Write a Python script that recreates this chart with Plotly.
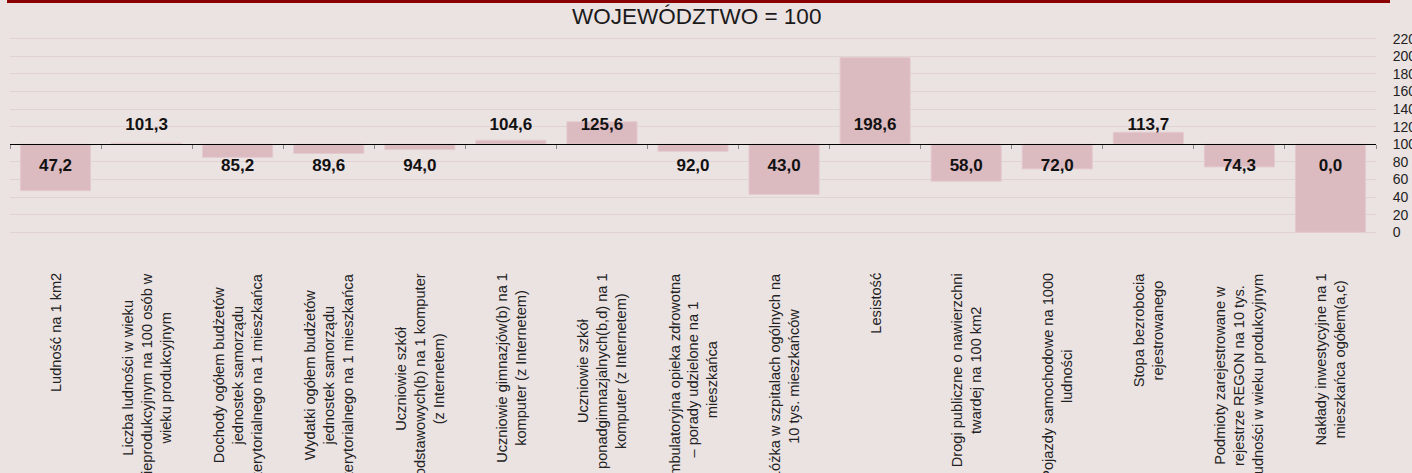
import plotly.graph_objects as go

# ---- data ----
categories = [
    "Ludność na 1 km2",
    "Liczba ludności w wieku<br>nieprodukcyjnym na 100 osób w<br>wieku produkcyjnym",
    "Dochody ogółem budżetów<br>jednostek samorządu<br>terytorialnego na 1 mieszkańca",
    "Wydatki ogółem budżetów<br>jednostek samorządu<br>terytorialnego na 1 mieszkańca",
    "Uczniowie szkół<br>podstawowych(b) na 1 komputer<br>(z Internetem)",
    "Uczniowie gimnazjów(b) na 1<br>komputer (z Internetem)",
    "Uczniowie szkół<br>ponadgimnazjalnych(b,d) na 1<br>komputer (z Internetem)",
    "Ambulatoryjna opieka zdrowotna<br>– porady udzielone na 1<br>mieszkańca",
    "Łóżka w szpitalach ogólnych na<br>10 tys. mieszkańców",
    "Lesistość",
    "Drogi publiczne o nawierzchni<br>twardej na 100 km2",
    "Pojazdy samochodowe na 1000<br>ludności",
    "Stopa bezrobocia<br>rejestrowanego",
    "Podmioty zarejestrowane w<br>rejestrze REGON na 10 tys.<br>ludności w wieku produkcyjnym",
    "Nakłady inwestycyjne na 1<br>mieszkańca ogółem(a,c)",
]
values = [47.2, 101.3, 85.2, 89.6, 94.0, 104.6, 125.6, 92.0, 43.0, 198.6,
          58.0, 72.0, 113.7, 74.3, 0.0]
baseline = 100
title_text = "WOJEWÓDZTWO = 100"
y_ticks = list(range(0, 221, 20))

# ---- styling ----
FONT = "Liberation Sans, Arial, sans-serif"
BG = "#EBE2E2"
GRID = "#E2D3D3"
BAR = "#DBBAC0"
BAR_EDGE = "#E4CBCF"
Y_MIN, Y_MAX = -2, 222
LABEL_UP = baseline + 21.0
LABEL_DOWN = baseline - 25.0

W, H = 1412, 473
ML, MR, MT, MB = 10, 36, 37, 239
PW, PH = W - ML - MR, H - MT - MB


def px_to_paper_y(py):
    return (H - MB - py) / PH


def px_to_paper_x(px):
    return (px - ML) / PW


fig = go.Figure()

fig.add_trace(go.Bar(
    x=categories,
    y=[v - baseline for v in values],
    base=baseline,
    width=0.77,
    marker=dict(color=BAR, line=dict(color=BAR_EDGE, width=1)),
    hoverinfo="skip",
    showlegend=False,
))

fig.add_trace(go.Scatter(
    x=categories,
    y=[LABEL_UP if v >= baseline else LABEL_DOWN for v in values],
    text=[f"{v:.1f}".replace(".", ",") for v in values],
    mode="text",
    textfont=dict(family=FONT, size=17, color="#111111", weight="bold"),
    textposition="middle center",
    hoverinfo="skip",
    showlegend=False,
))

annotations = []
for c in categories:
    annotations.append(dict(
        x=c, y=px_to_paper_y(271), xref="x", yref="paper",
        text=c, textangle=-90, showarrow=False,
        xanchor="center", yanchor="top", align="center",
        font=dict(family=FONT, size=14.6, color="#222222"),
    ))
annotations.append(dict(
    x=px_to_paper_x(696), y=px_to_paper_y(17), xref="paper", yref="paper",
    text=title_text, showarrow=False, xanchor="center", yanchor="middle",
    font=dict(family=FONT, size=22.5, color="#1a1a1a"),
))

pos_base = (baseline - Y_MIN) / (Y_MAX - Y_MIN)

fig.update_layout(
    width=W, height=H,
    margin=dict(l=ML, r=MR, t=MT, b=MB, pad=0, autoexpand=False),
    paper_bgcolor=BG, plot_bgcolor=BG,
    annotations=annotations,
    shapes=[dict(type="rect", xref="paper", yref="paper",
                 x0=px_to_paper_x(7), x1=px_to_paper_x(1390),
                 y0=px_to_paper_y(0), y1=px_to_paper_y(3),
                 fillcolor="#8B0000", line=dict(width=0), layer="above")],
    xaxis=dict(
        type="category",
        range=[-0.5, len(categories) - 0.5],
        anchor="free", position=pos_base,
        showline=True, linecolor="#000000", linewidth=1.3,
        ticks="outside", tickson="boundaries", ticklen=4,
        tickcolor="#8a8a8a", tickwidth=1,
        showticklabels=False, showgrid=False, zeroline=False,
        automargin=False,
    ),
    yaxis=dict(
        side="right", range=[Y_MIN, Y_MAX],
        tickvals=y_ticks, ticktext=[str(t) for t in y_ticks],
        showgrid=True, gridcolor=GRID, gridwidth=1,
        zeroline=False, showline=False,
        ticks="outside", ticklen=13, tickcolor="rgba(0,0,0,0)",
        tickfont=dict(family=FONT, size=14, color="#222222"),
        automargin=False,
    ),
)

fig.write_html(
    "out.html",
    config={"displayModeBar": False},
    post_script="document.body.style.margin='0';document.body.style.padding='0';",
)
